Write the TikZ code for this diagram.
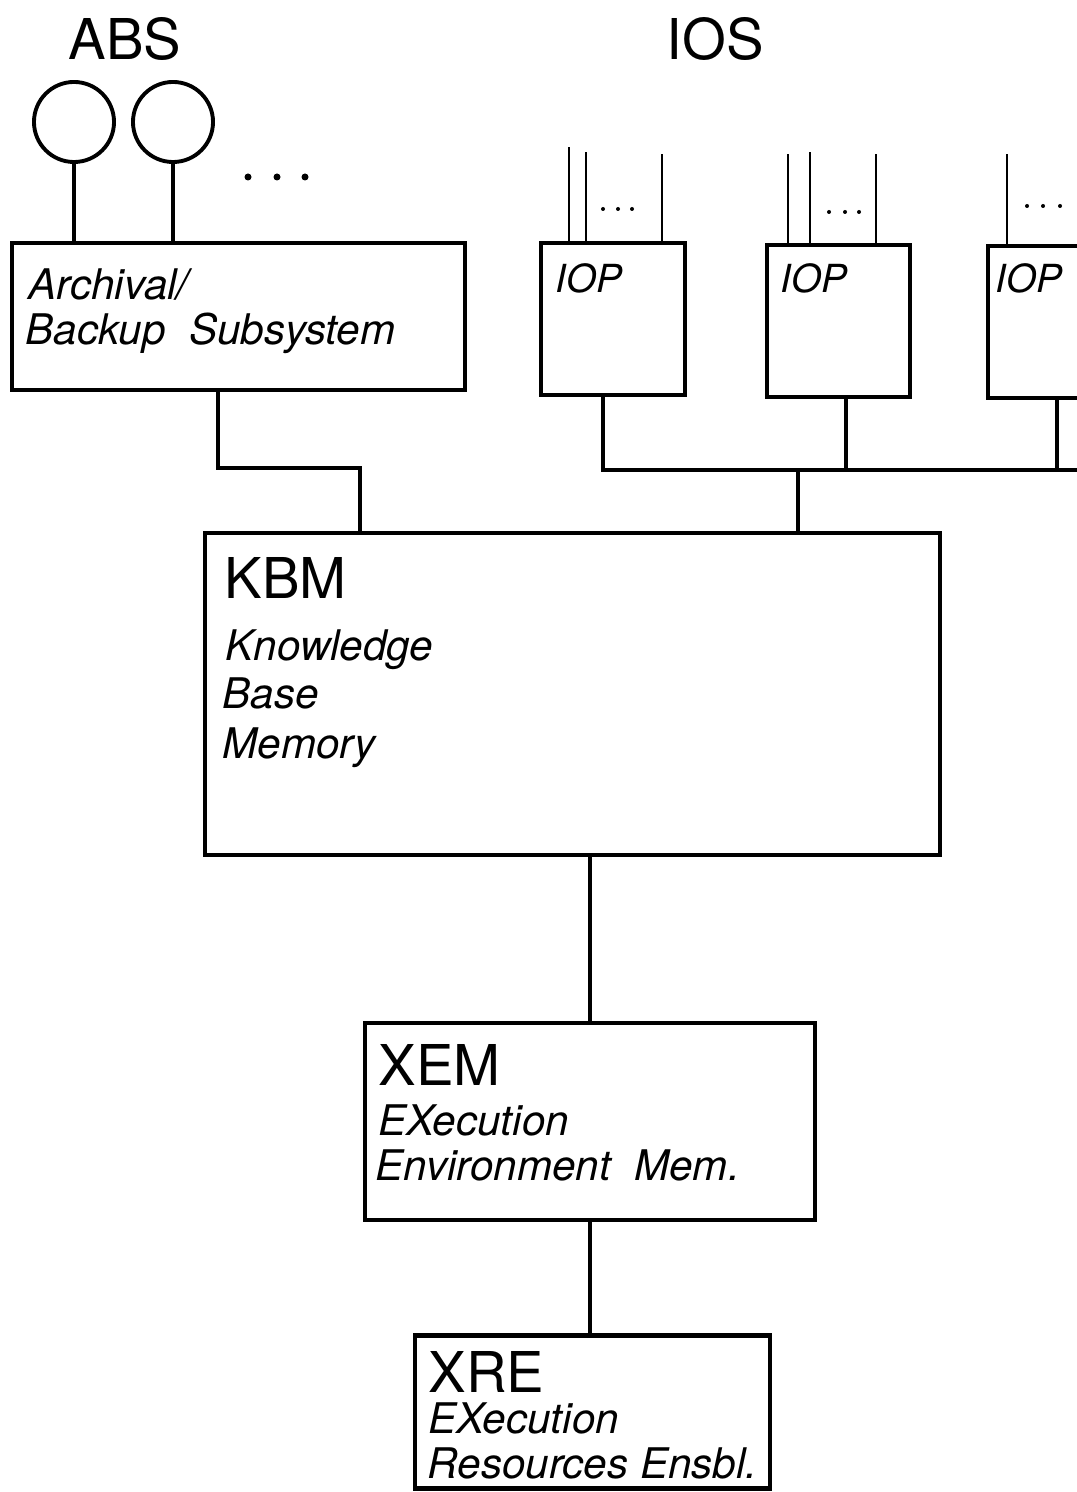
\documentclass[tikz,border=0pt]{standalone}
\usepackage{fontspec}
\setmainfont{TeX Gyre Heros}

\tikzset{
  unitbox/.style={draw, rectangle, line width=1.2pt, inner sep=0pt},
  bigname/.style={font=\fontsize{16}{19}\selectfont, inner sep=0pt, anchor=base west},
  slant/.style={font=\fontsize{12}{14}\selectfont\itshape, inner sep=0pt, anchor=base west},
  iopname/.style={font=\fontsize{11}{13}\selectfont\itshape, inner sep=0pt, anchor=base west},
  wire/.style={line width=1.3pt},
  thinwire/.style={line width=0.6pt},
  drive/.style={draw, circle, line width=1.1pt, minimum size=0.8cm, inner sep=0pt}
}

\begin{document}
\begin{tikzpicture}[x=0.01cm, y=-0.01cm]
\useasboundingbox (0,0) rectangle (1077,1492);
\clip (0,0) rectangle (1077,1492);

% titles
\node [bigname] (abstitle) at (68,60) {ABS};
\node [bigname] (iostitle) at (666,60) {IOS};

% archival / backup subsystem with its drives
\node [drive] (d1) at (74,122) {};
\node [drive] (d2) at (173,122) {};
\fill (248,177) circle (0.035cm);
\fill (277,177) circle (0.035cm);
\fill (305,177) circle (0.035cm);

\node [unitbox, minimum width=4.53cm, minimum height=1.47cm] (abs) at (238.5,316.5) {};
\node [slant] (abstxt1) at (28,300) {Archival/};
\node [slant] (abstxt2) at (25,345) {Backup~~Subsystem};

\draw [wire] (d1.south) -- (abs.north -| d1.south);
\draw [wire] (d2.south) -- (abs.north -| d2.south);

% input/output processors
\node [unitbox, minimum width=1.44cm, minimum height=1.52cm] (iop1) at (613,319) {};
\node [unitbox, minimum width=1.43cm, minimum height=1.52cm] (iop2) at (838.5,321) {};
\node [unitbox, minimum width=1.43cm, minimum height=1.52cm] (iop3) at (1059.5,322) {};
\node [iopname] (ioptxt1) at (555,293) {IOP};
\node [iopname] (ioptxt2) at (780,293) {IOP};
\node [iopname] (ioptxt3) at (995,293) {IOP};

  % channels into the IOPs
\foreach \x/\top in {569/147, 586/152, 662/154}
  \draw [thinwire] (iop1.north -| \x,0) -- (\x,\top);
\foreach \x/\top in {788/154, 810/152, 876/154}
  \draw [thinwire] (iop2.north -| \x,0) -- (\x,\top);
\draw [thinwire] (iop3.north -| 1007,0) -- (1007,154);

\foreach \x in {603,618,632}
  \fill (\x,209) circle (0.02cm);
\foreach \x in {829,845,859}
  \fill (\x,212) circle (0.02cm);
\foreach \x in {1027,1043,1060}
  \fill (\x,206) circle (0.02cm);

% knowledge base memory
\node [unitbox, minimum width=7.35cm, minimum height=3.22cm] (kbm) at (572.5,694) {};
\node [bigname] (kbmname) at (224,598) {KBM};
\node [slant] (kbmtxt1) at (225,660) {Knowledge};
\node [slant] (kbmtxt2) at (222,708) {Base};
\node [slant] (kbmtxt3) at (222,758) {Memory};

  % ABS to KBM
\coordinate (absbend) at (218,468);
\draw [wire] (abs.south -| absbend) -- (absbend) -| (kbm.north -| 360,0);

  % IOP bus to KBM
\coordinate (busL) at (603,470);
\coordinate (busR) at (1090,470);
\draw [wire] (iop1.south -| busL) -- (busL) -- (busR);
\draw [wire] (iop2.south -| 846,0) -- (846,470);
\draw [wire] (iop3.south -| 1057,0) -- (1057,470);
\draw [wire] (798,470) -- (kbm.north -| 798,0);

% execution environment memory
\node [unitbox, minimum width=4.5cm, minimum height=1.97cm] (xem) at (590,1121.5) {};
\node [bigname] (xemname) at (378,1085) {XEM};
\node [slant] (xemtxt1) at (378,1135) {EXecution};
\node [slant] (xemtxt2) at (375,1180) {Environment~~Mem.};

\draw [wire] (kbm.south -| xem.north) -- (xem.north);

% execution resources ensemble
\node [unitbox, minimum width=3.55cm, minimum height=1.53cm] (xre) at (592.5,1412) {};
\node [bigname] (xrename) at (428,1392) {XRE};
\node [slant] (xretxt1) at (428,1433) {EXecution};
\node [slant] (xretxt2) at (427,1478) {Resources Ensbl.};

\draw [wire] (xem.south) -- (xre.north -| xem.south);

\end{tikzpicture}
\end{document}
